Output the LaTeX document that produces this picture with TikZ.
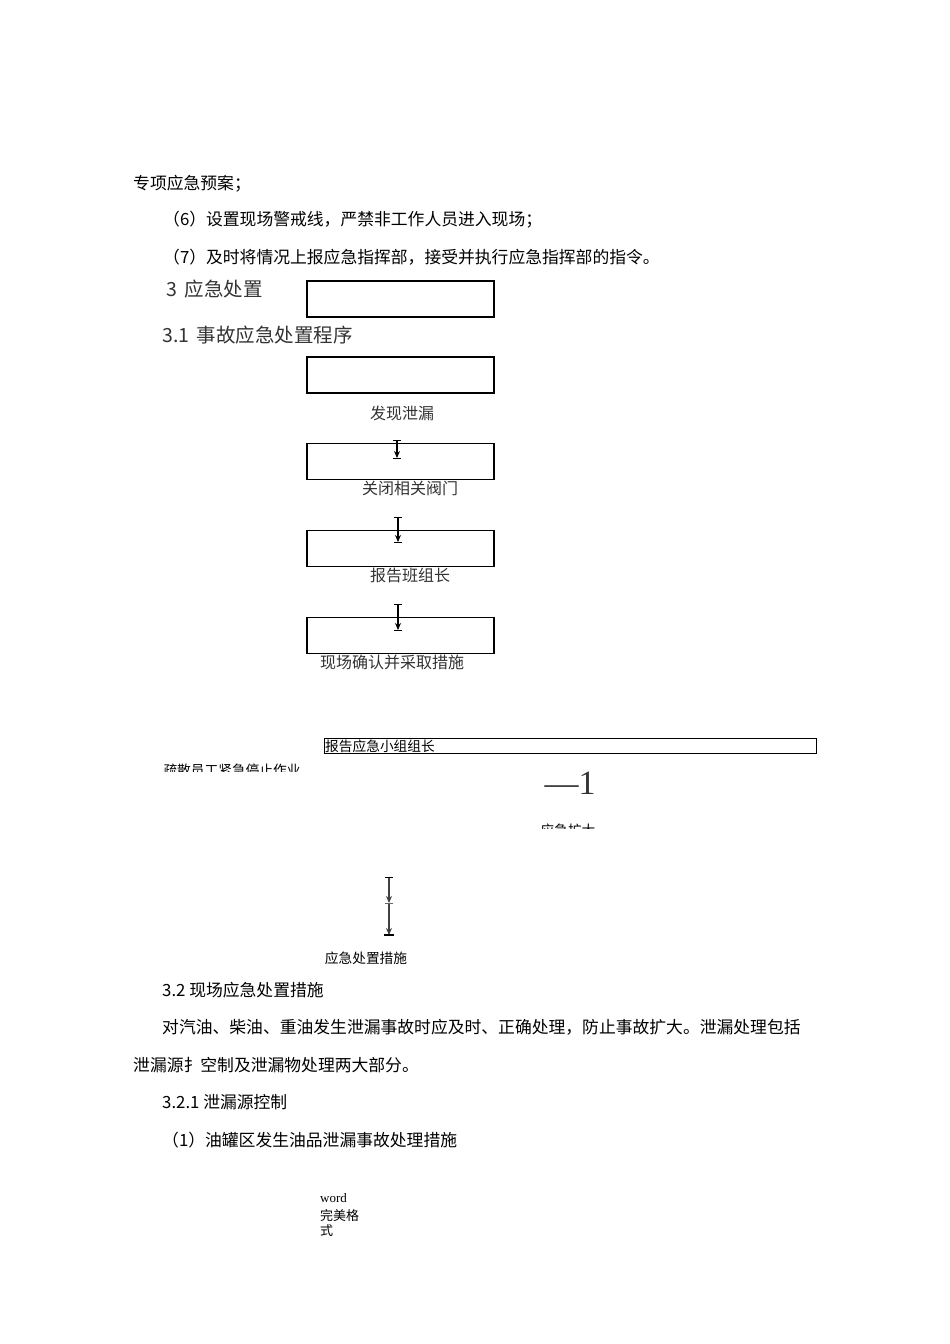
\documentclass[tikz,border=0pt]{standalone}
\usepackage{fontspec}
\setmainfont{Liberation Serif}
\newfontfamily\cjk{Noto Sans CJK SC}
\usetikzlibrary{arrows.meta}
\tikzset{
 txt/.style={font=\cjk\fontsize{16.8}{19}\selectfont,anchor=west,inner sep=0},
 head/.style={font=\cjk\fontsize{19.5}{21}\selectfont,anchor=west,inner sep=0,text=black!80},
 lbl/.style={font=\cjk\fontsize{16}{18}\selectfont,inner sep=0,text=black!80},
 sm/.style={font=\cjk\fontsize{13.7}{15}\selectfont,inner sep=0},
 box/.style={draw,line width=1.3pt,minimum width=187pt,minimum height=36pt,inner sep=0},
 arr/.style={line width=1.2pt,-{Stealth[length=7pt,width=6pt]}},
 bar/.style={line width=1pt}
}
\begin{document}
\begin{tikzpicture}[x=1pt,y=-1pt]
\useasboundingbox[fill=white] (0,0) rectangle (950,1344);
\node[txt] (t1) at (133,184) {专项应急预案；};
\node[txt] (t2) at (163,220) {（6）设置现场警戒线，严禁非工作人员进入现场；};
\node[txt] (t3) at (163,257) {（7）及时将情况上报应急指挥部，接受并执行应急指挥部的指令。};
\node[head] (h1) at (166,289) {3 \,应急处置};
\node[head] (h2) at (162,335) {3.1 \,事故应急处置程序};
\node[box] (b0) at (400.5,299) {};
\node[box] (b1) at (400.5,375) {};
\node[box] (b2) at (400.5,461.5) {};
\node[box] (b3) at (400.5,548.5) {};
\node[box] (b4) at (400.5,635.5) {};
\node[lbl] (l1) at (402,413) {发现泄漏};
\node[lbl] (l2) at (410,488) {关闭相关阀门};
\node[lbl] (l3) at (410,575) {报告班组长};
\node[lbl] (l4) at (392,662) {现场确认并采取措施};
\coordinate (a1s) at (397,440); \coordinate (a1e) at (397,458);
\coordinate (a2s) at (398,517); \coordinate (a2e) at (398,542);
\coordinate (a3s) at (398,604); \coordinate (a3e) at (398,630);
\foreach \s/\e in {a1s/a1e,a2s/a2e,a3s/a3e}{
 \draw[arr] (\s) -- (\e);
 \draw[bar] ([xshift=-4pt]\s) -- ([xshift=4pt]\s);
 \draw[bar] ([xshift=-4pt]\e) -- ([xshift=4pt]\e);
}
\node[draw,line width=0.8pt,minimum width=492pt,minimum height=15pt,inner sep=0] (b5) at (570,745.5) {};
\node[sm,anchor=west,inner sep=1pt] (l5) at (324,746) {报告应急小组组长};
\begin{scope}
\clip (150,758) rectangle (310,771);
\node[sm] (l6) at (232,770) {疏散员工紧急停止作业};
\end{scope}
\node[font=\fontsize{34}{36}\selectfont,inner sep=0,text=black!80] (n1) at (570,783) {—1};
\begin{scope}
\clip (530,818) rectangle (610,828);
\node[sm] (l7) at (568,830) {应急扩大};
\end{scope}
\coordinate (c1) at (389,877); \coordinate (c2) at (389,903); \coordinate (c3) at (389,935);
\draw[arr,black!75] (c1) -- (c2);
\draw[arr,black!75] (c2) -- (c3);
\draw[bar] ([xshift=-4pt]c1) -- ([xshift=4pt]c1);
\draw[bar,black!60] ([xshift=-4pt]c2) -- ([xshift=4pt]c2);
\draw[line width=1.5pt] ([xshift=-5pt]c3) -- ([xshift=5pt]c3);
\node[sm] (l8) at (366,958) {应急处置措施};
\node[txt] (t4) at (162,990) {3.2 现场应急处置措施};
\node[txt] (t5) at (162,1027) {对汽油、柴油、重油发生泄漏事故时应及时、正确处理，防止事故扩大。泄漏处理包括};
\node[txt] (t6) at (133,1065) {泄漏源扌空制及泄漏物处理两大部分。};
\node[txt] (t7) at (162,1102) {3.2.1 泄漏源控制};
\node[txt] (t8) at (162,1140) {（1）油罐区发生油品泄漏事故处理措施};
\node[font=\fontsize{13}{15}\selectfont,anchor=west,inner sep=0] (w1) at (320,1198) {word};
\node[font=\cjk\fontsize{13}{15}\selectfont,anchor=west,inner sep=0] (w2) at (320,1215) {完美格};
\node[font=\cjk\fontsize{13}{15}\selectfont,anchor=west,inner sep=0] (w3) at (320,1231) {式};
\end{tikzpicture}
\end{document}
